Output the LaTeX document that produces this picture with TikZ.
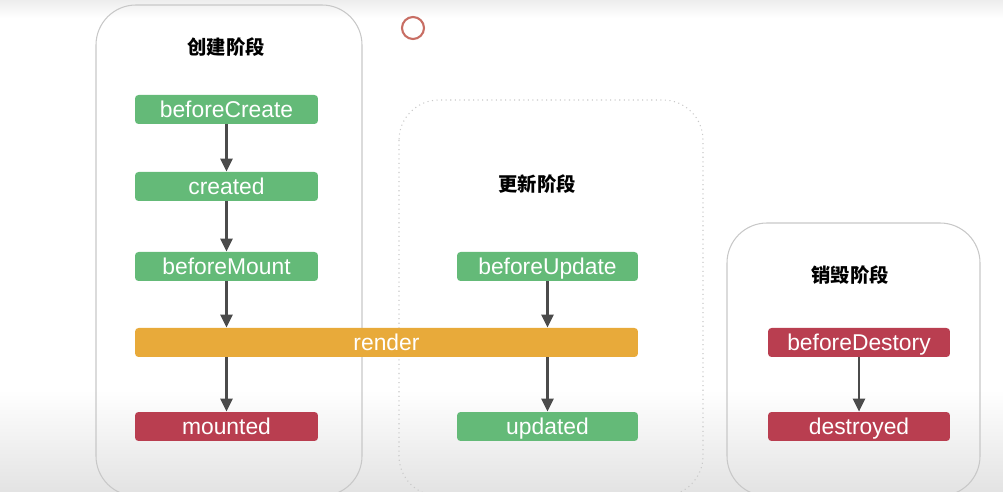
\documentclass[tikz,border=0pt]{standalone}
\usepackage{fontspec}
\setmainfont{Liberation Sans}
\newfontfamily\cjk{Noto Sans CJK SC}
\usetikzlibrary{arrows.meta,positioning}
\definecolor{hookG}{RGB}{100,186,120}
\definecolor{hookR}{RGB}{185,62,80}
\definecolor{renderO}{RGB}{232,170,58}
\definecolor{panelC}{RGB}{200,200,200}
\definecolor{arrowC}{RGB}{75,75,75}
\definecolor{circC}{RGB}{200,110,100}

\begin{document}
\begin{tikzpicture}[x=0.02cm, y=-0.02cm,
  >={Triangle[length=2.6mm, width=2.4mm]},
  lbl/.style={rectangle, rounded corners=0.7mm, text=white, inner sep=0pt,
              minimum width=3.66cm, minimum height=0.58cm,
              text height=9.4pt, text depth=0pt,
              font=\fontsize{13}{15}\selectfont},
  greenbox/.style={lbl, fill=hookG},
  redbox/.style={lbl, fill=hookR},
  stage/.style={draw=panelC, line width=0.6pt, rounded corners=0.8cm},
  title/.style={font=\cjk\bfseries\fontsize{11}{13}\selectfont},
  flow/.style={->, line width=1.4pt, draw=arrowC}]

  \clip (0,0) rectangle (1003,492);
  % soft screen shading, top and bottom
  \fill[top color=gray!14, bottom color=white] (0,0) rectangle (1003,18);
  \fill[top color=white, bottom color=gray!22] (0,390) rectangle (1003,492);

  \draw[stage] (96,5) rectangle (362,496);
  \draw[stage, dotted] (399,100) rectangle (703,496);
  \draw[stage] (727,223) rectangle (980,496);

  \draw[circC, line width=1.2pt] (413,28) circle (0.22cm);

  \node[title] (t1) at (226,47)  {创建阶段};
  \node[title] (t2) at (537,184) {更新阶段};
  \node[title] (t3) at (850,275) {销毁阶段};

  \node[greenbox] (bc) at (226.5,109.5) {beforeCreate};
  \node[greenbox] (cr) at (226.5,186.5) {created};
  \node[greenbox] (bm) at (226.5,266.5) {beforeMount};
  \node[lbl, fill=renderO, minimum width=10.06cm] (rd) at (386.5,342.5) {render};
  \node[redbox] (mt) at (226.5,426.5) {mounted};

  \node[greenbox, minimum width=3.62cm] (bu) at (547.5,266.5) {beforeUpdate};
  \node[greenbox, minimum width=3.62cm] (up) at (547.5,426.5) {updated};

  \node[redbox, minimum width=3.64cm] (bd) at (859,342.5) {beforeDestory};
  \node[redbox, minimum width=3.64cm] (ds) at (859,426.5) {destroyed};

  \draw[flow] (bc) -- (cr);
  \draw[flow] (cr) -- (bm);
  \draw[flow] (bm.south) -- (bm.south |- rd.north);
  \draw[flow] (mt.north |- rd.south) -- (mt.north);
  \draw[flow] (bu.south) -- (bu.south |- rd.north);
  \draw[flow] (up.north |- rd.south) -- (up.north);
  \draw[flow] (bd) -- (ds);
\end{tikzpicture}
\end{document}
